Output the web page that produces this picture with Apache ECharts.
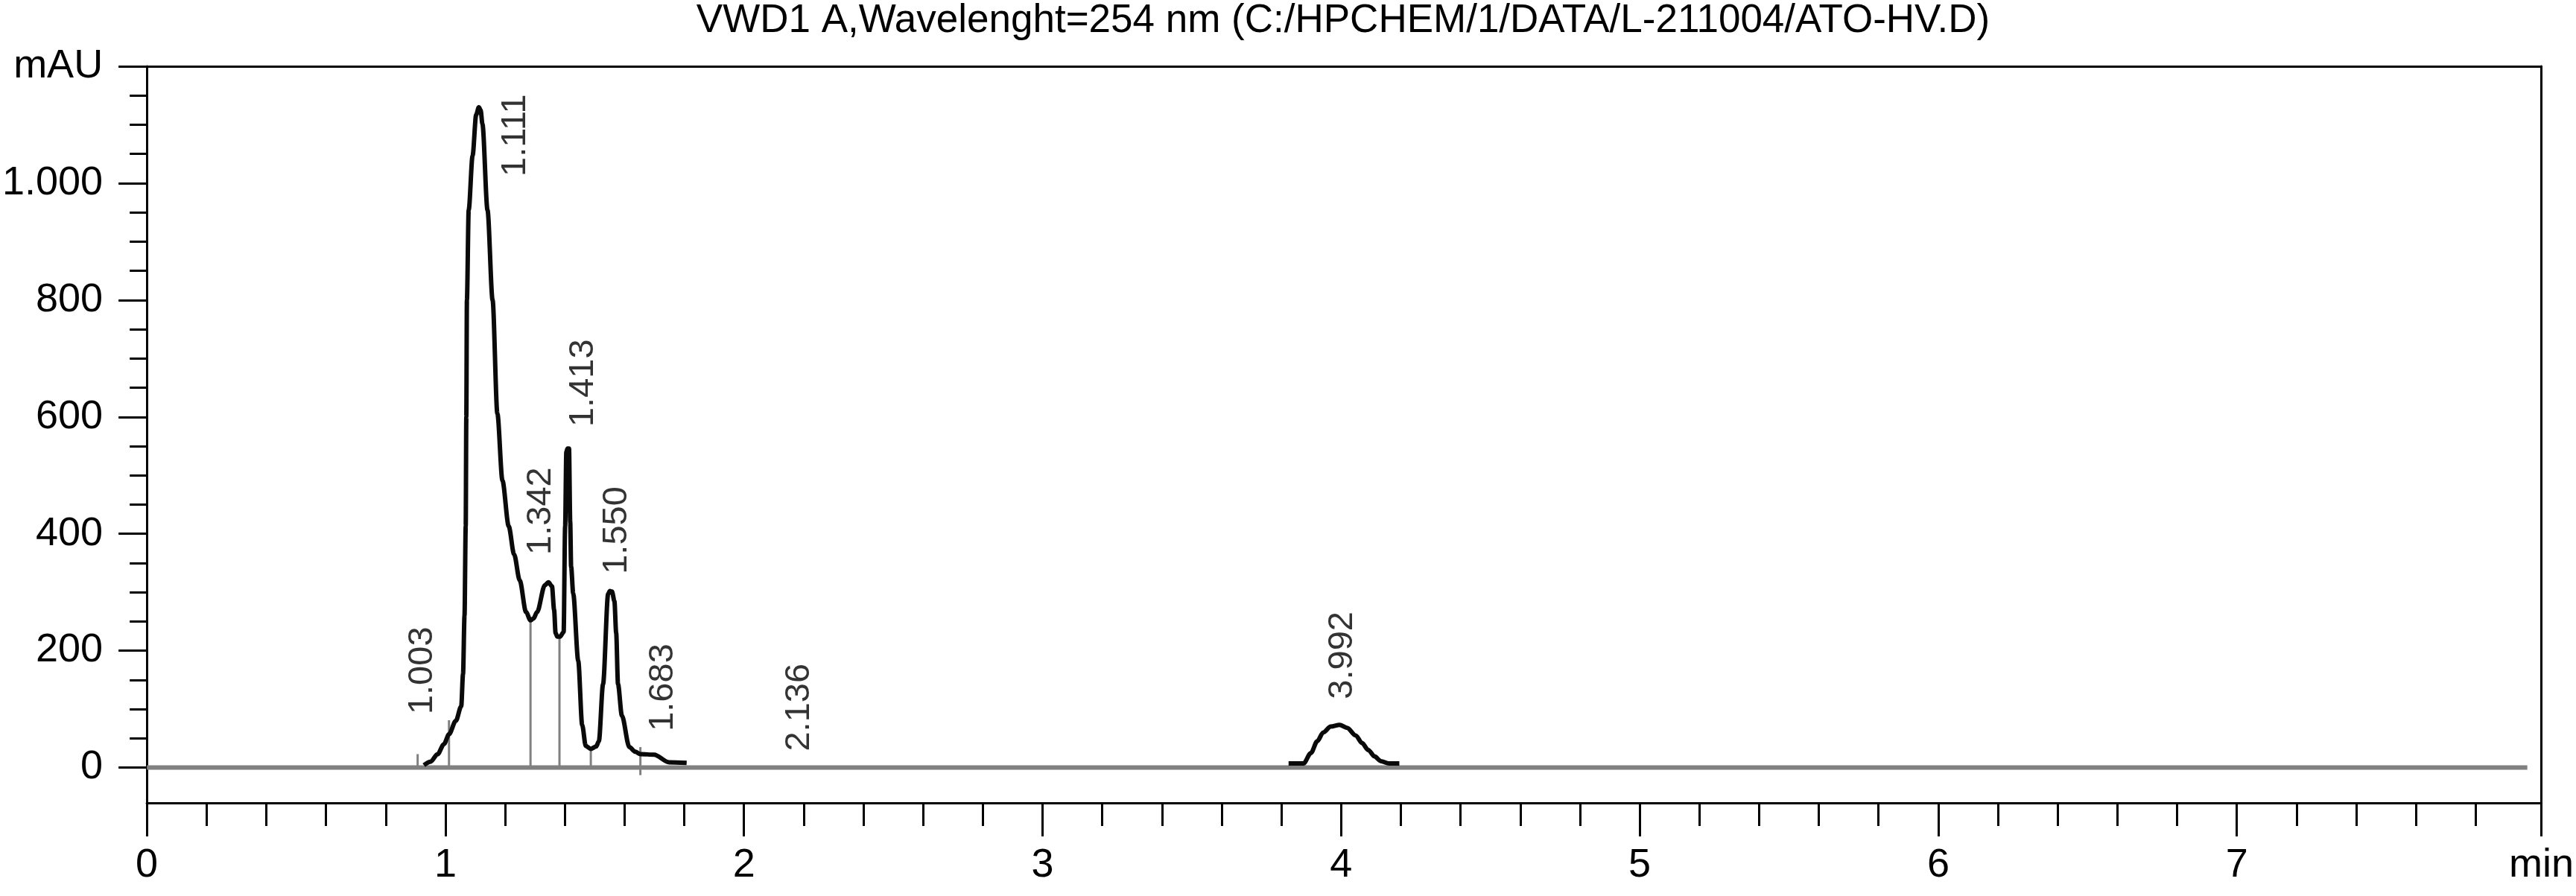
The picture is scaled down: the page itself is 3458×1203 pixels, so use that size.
<!DOCTYPE html>
<html>
<head>
<meta charset="utf-8">
<script src="https://cdn.jsdelivr.net/npm/echarts@6/dist/echarts.min.js"></script>
<style>
html,body{margin:0;padding:0;background:#fff;}
#chart{width:3458px;height:1203px;}
</style>
</head>
<body>
<div id="chart"></div>
<script>
// ---- data ----
const titleText = 'VWD1 A,Wavelenght=254 nm (C:/HPCHEM/1/DATA/L-211004/ATO-HV.D)';

// chromatogram segment 1 (min, mAU)
const seg1Time = [0.928,0.95,0.974,0.995,1.012,1.035,1.053,1.059,1.064,1.068,1.070,1.072,1.078,1.091,1.103,1.112,1.118,1.124,1.141,1.158,1.174,1.191,1.212,1.23,1.249,1.27,1.285,1.295,1.307,1.333,1.345,1.357,1.364,1.369,1.375,1.384,1.396,1.401,1.405,1.409,1.414,1.418,1.421,1.428,1.445,1.458,1.47,1.487,1.505,1.514,1.528,1.545,1.551,1.558,1.566,1.572,1.578,1.591,1.616,1.636,1.653,1.699,1.749,1.808];
const seg1Val  = [4,10,23,40,57,80,105,160,260,413,600,800,954,1047,1117,1130,1125,1101,954,800,606,491,413,365,320,266,252,255,266,312,317,310,270,230,224,224,232,413,540,546,546,420,344,298,182,73,37,32,36,45,143,297,302,301,285,230,143,89,35,27,23,22,9,8];
// chromatogram segment 2
const seg2Time = [3.824,3.874,3.899,3.92,3.94,3.965,3.995,4.02,4.049,4.07,4.091,4.112,4.133,4.16,4.195];
const seg2Val  = [7,7,25,45,60,70,73,68,55,42,30,19,11,7,7];

// baseline
const baseTime = [0, 7.973];
const baseVal  = [0, 0];

// peak boundary markers
const markerTime   = [0.907, 1.012, 1.285, 1.382, 1.487, 1.653];
const markerBottom = [0, 0, 0, 0, 0, -13];
const markerTop    = [23, 81, 252, 224, 35, 35];

// peak labels
const peakLabels    = ['1.003','1.111','1.342','1.413','1.550','1.683','2.136','3.992'];
const peakLabelTime = [0.923, 1.235, 1.320, 1.462, 1.574, 1.729, 2.185, 4.004];
const peakLabelVal  = [166, 1082, 439, 658, 406, 137, 103, 192];

// axes ticks
const xMajorTicks = [0,1,2,3,4,5,6,7,8.02];
const xMinorTicks = [0.2,0.4,0.6,0.8,1.2,1.4,1.6,1.8,2.2,2.4,2.6,2.8,3.2,3.4,3.6,3.8,4.2,4.4,4.6,4.8,5.2,5.4,5.6,5.8,6.2,6.4,6.6,6.8,7.2,7.4,7.6,7.8];
const yMajorTicks = [0,200,400,600,800,1000,1200];
const yMinorTicks = [50,100,150,250,300,350,450,500,550,650,700,750,850,900,950,1050,1100,1150];
const yTickLabels = {0:'0',200:'200',400:'400',600:'600',800:'800',1000:'1.000',1200:'mAU'};
const xUnitLabel = 'min';

// ---- chart ----
const FONT = "'Liberation Sans', Arial, Helvetica, sans-serif";
const X_MIN = 0, X_MAX = 8.02, Y_MIN = -60.5, Y_MAX = 1200;

function zip(a,b){ return a.map((v,i)=>[v,b[i]]); }

const chart = echarts.init(document.getElementById('chart'), null, {renderer:'canvas'});

const axisLineStyle = {color:'#000', width:3};

const option = {
  animation:false,
  backgroundColor:'#fff',
  grid:{left:197, right:45, top:89, bottom:125, show:false},
  graphic:[{
    type:'text', x:1803, y:28, z:10,
    style:{text:titleText, fill:'#000', font:'53px '+FONT, textAlign:'center', textVerticalAlign:'middle'}
  }],
  xAxis:[
    {type:'value', min:X_MIN, max:X_MAX, position:'bottom',
     axisLine:{show:true, onZero:false, lineStyle:axisLineStyle},
     axisTick:{show:true, customValues:xMajorTicks, length:45, lineStyle:{color:'#000', width:3}},
     axisLabel:{show:true, customValues:xMajorTicks, margin:57, color:'#000', fontSize:54, fontFamily:FONT,
       formatter:v=> v>7.5 ? xUnitLabel : String(v)},
     splitLine:{show:false}},
    {type:'value', min:X_MIN, max:X_MAX, position:'bottom',
     axisLine:{show:false, onZero:false},
     axisTick:{show:true, customValues:xMinorTicks, length:31, lineStyle:{color:'#000', width:3}},
     axisLabel:{show:false}, splitLine:{show:false}},
    {type:'value', min:X_MIN, max:X_MAX, position:'top',
     axisLine:{show:true, onZero:false, lineStyle:axisLineStyle},
     axisTick:{show:false}, axisLabel:{show:false}, splitLine:{show:false}}
  ],
  yAxis:[
    {type:'value', min:Y_MIN, max:Y_MAX, position:'left',
     axisLine:{show:true, onZero:false, lineStyle:axisLineStyle},
     axisTick:{show:true, customValues:yMajorTicks, length:38, lineStyle:{color:'#000', width:3}},
     axisLabel:{show:true, customValues:yMajorTicks, margin:59, color:'#000', fontSize:54, fontFamily:FONT,
       formatter:v=> yTickLabels[v] !== undefined ? yTickLabels[v] : ''},
     splitLine:{show:false}},
    {type:'value', min:Y_MIN, max:Y_MAX, position:'left',
     axisLine:{show:false, onZero:false},
     axisTick:{show:true, customValues:yMinorTicks, length:23, lineStyle:{color:'#000', width:3}},
     axisLabel:{show:false}, splitLine:{show:false}},
    {type:'value', min:Y_MIN, max:Y_MAX, position:'right',
     axisLine:{show:true, onZero:false, lineStyle:axisLineStyle},
     axisTick:{show:false}, axisLabel:{show:false}, splitLine:{show:false}}
  ],
  series:[
    {type:'line', name:'baseline', xAxisIndex:0, yAxisIndex:0, data:zip(baseTime, baseVal),
     showSymbol:false, symbol:'none', lineStyle:{color:'#808080', width:6}, z:1, silent:true},
    {type:'custom', name:'markers', xAxisIndex:0, yAxisIndex:0,
     data:markerTime.map((t,i)=>[t, markerBottom[i], markerTop[i]]),
     renderItem:(params, api)=>{
       const p0 = api.coord([api.value(0), api.value(1)]);
       const p1 = api.coord([api.value(0), api.value(2)]);
       return {type:'line', shape:{x1:p0[0], y1:p0[1], x2:p1[0], y2:p1[1]},
               style:{stroke:'#808080', lineWidth:3}};
     }, z:2, silent:true},
    {type:'line', name:'signal1', xAxisIndex:0, yAxisIndex:0, data:zip(seg1Time, seg1Val),
     showSymbol:false, symbol:'none', smooth:0.3, smoothMonotone:'x',
     lineStyle:{color:'#0a0a0a', width:6}, z:3, silent:true},
    {type:'line', name:'signal2', xAxisIndex:0, yAxisIndex:0, data:zip(seg2Time, seg2Val),
     showSymbol:false, symbol:'none', smooth:0.3, smoothMonotone:'x',
     lineStyle:{color:'#0a0a0a', width:6}, z:3, silent:true},
    {type:'scatter', name:'labels', xAxisIndex:0, yAxisIndex:0,
     data:peakLabels.map((s,i)=>({name:s, value:[peakLabelTime[i], peakLabelVal[i]]})),
     symbolSize:1, itemStyle:{color:'rgba(0,0,0,0)'},
     label:{show:true, formatter:'{b}', position:'inside', rotate:90, color:'#000',
            fontSize:47, fontFamily:FONT, align:'center', verticalAlign:'middle'},
     z:4, silent:true}
  ]
};
chart.setOption(option);
</script>
</body>
</html>
